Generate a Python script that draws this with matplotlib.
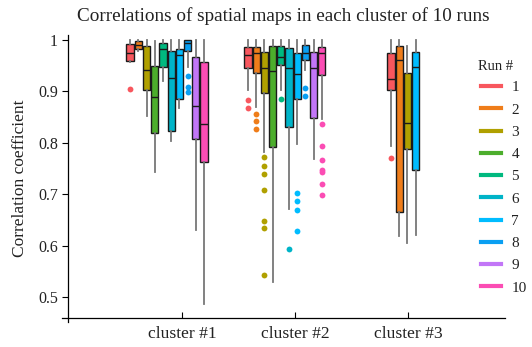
import matplotlib
matplotlib.use("Agg")
import matplotlib.pyplot as plt
from matplotlib.lines import Line2D

plt.rcParams['font.family'] = ['Liberation Serif', 'DejaVu Serif']

# ---------------- data ----------------
title = "Correlations of spatial maps in each cluster of 10 runs"
ylabel = "Correlation coefficient"
clusters = ["cluster #1", "cluster #2", "cluster #3"]
runs = ["1", "2", "3", "4", "5", "6", "7", "8", "9", "10"]
run_colors = ['#f8575e', '#ef7d1a', '#b0a000', '#4cae2c', '#00b97f',
              '#00b4c8', '#00bcff', '#0a9ff2', '#c276f7', '#fb4db4']

# cluster #1 (runs 1..10): whislo, q1, med, q3, whishi
c1_runs = [1, 2, 3, 4, 5, 6, 7, 8, 9, 10]
c1_whislo = [0.958, 0.979, 0.852, 0.743, 0.921, 0.803, 0.868, 0.947, 0.630, 0.487]
c1_q1     = [0.960, 0.982, 0.902, 0.820, 0.947, 0.823, 0.886, 0.979, 0.807, 0.763]
c1_med    = [0.975, 0.990, 0.941, 0.889, 0.982, 0.927, 0.971, 0.994, 0.872, 0.836]
c1_q3     = [0.992, 0.999, 0.989, 0.949, 0.995, 0.979, 0.982, 1.000, 0.968, 0.957]
c1_whishi = [1.000, 1.000, 1.000, 0.999, 1.000, 1.000, 1.000, 1.000, 1.000, 1.000]
c1_fliers = [[0.904], [], [], [], [], [], [], [0.930, 0.909, 0.899], [], []]

# cluster #2 (runs 1..10)
c2_runs = [1, 2, 3, 4, 5, 6, 7, 8, 9, 10]
c2_whislo = [0.903, 0.870, 0.782, 0.529, 0.903, 0.671, 0.797, 0.942, 0.769, 0.847]
c2_q1     = [0.945, 0.936, 0.897, 0.793, 0.951, 0.831, 0.886, 0.962, 0.849, 0.932]
c2_med    = [0.971, 0.974, 0.945, 0.940, 0.967, 0.946, 0.934, 0.974, 0.945, 0.975]
c2_q3     = [0.987, 0.986, 0.977, 0.988, 0.988, 0.984, 0.975, 0.990, 0.976, 0.987]
c2_whishi = [1.000, 1.000, 1.000, 1.000, 1.000, 1.000, 1.000, 1.000, 1.000, 1.000]
c2_fliers = [[0.883, 0.867], [0.857, 0.842, 0.828],
             [0.773, 0.755, 0.739, 0.708, 0.649, 0.634, 0.544], [], [0.886],
             [0.594], [0.702, 0.688, 0.670, 0.628], [0.906, 0.891], [],
             [0.836, 0.795, 0.766, 0.748, 0.743, 0.721, 0.699]]

# cluster #3 (runs 1, 2, 3, 7)
c3_runs = [1, 2, 3, 7]
c3_whislo = [0.795, 0.620, 0.606, 0.622]
c3_q1     = [0.903, 0.665, 0.788, 0.748]
c3_med    = [0.925, 0.961, 0.838, 0.947]
c3_q3     = [0.974, 0.988, 0.935, 0.976]
c3_whishi = [1.000, 1.000, 0.988, 1.000]
c3_fliers = [[0.771], [], [], []]

# ---------------- layout ----------------
group_start = [-0.459, 0.585, 1.850]   # center of first box in each group
slot = 0.0726
box_w = 0.064

fig = plt.figure(figsize=(5.32, 3.47), dpi=100)
ax = fig.add_axes([0.1165, 0.072, 0.8325, 0.827])

groups = [
    (c1_runs, c1_whislo, c1_q1, c1_med, c1_q3, c1_whishi, c1_fliers),
    (c2_runs, c2_whislo, c2_q1, c2_med, c2_q3, c2_whishi, c2_fliers),
    (c3_runs, c3_whislo, c3_q1, c3_med, c3_q3, c3_whishi, c3_fliers),
]

for gi, (rr, wl, q1, md, q3, wh, fl) in enumerate(groups):
    for j, r in enumerate(rr):
        col = run_colors[r - 1]
        st = [dict(whislo=wl[j], q1=q1[j], med=md[j], q3=q3[j],
                   whishi=wh[j], fliers=fl[j])]
        pos = group_start[gi] + j * slot
        ax.bxp(st, positions=[pos], widths=box_w, patch_artist=True,
               showcaps=False, manage_ticks=False,
               boxprops=dict(facecolor=col, edgecolor='#1a1a1a', linewidth=1.0),
               medianprops=dict(color='#1a1a1a', linewidth=1.0),
               whiskerprops=dict(color='#777777', linewidth=1.3),
               flierprops=dict(marker='o', markerfacecolor=col,
                               markeredgecolor='none', markersize=4.2))

ax.set_xlim(-1.062, 2.858)
ax.set_ylim(0.452, 1.0097)
ax.set_xticks([0, 1, 2])
ax.set_xticklabels(clusters)
ax.set_yticks([0.5, 0.6, 0.7, 0.8, 0.9, 1.0])
ax.set_yticklabels(["0.5", "0.6", "0.7", "0.8", "0.9", "1"])
ax.tick_params(axis='x', direction='in', length=4, width=0.8, pad=6,
               labelsize=12.6, labelcolor='#222222')
ax.tick_params(axis='y', direction='out', length=4, width=0.8, pad=3,
               labelsize=11.5, labelcolor='#222222')
ax.set_ylabel(ylabel, fontsize=12.5, color='#222222', labelpad=7)
for s in ['top', 'right']:
    ax.spines[s].set_visible(False)
ax.spines['left'].set_position(('outward', -4))
ax.spines['bottom'].set_position(('outward', -3))
ax.spines['left'].set_linewidth(0.9)
ax.spines['bottom'].set_linewidth(0.9)
ax.set_facecolor('none')

fig.suptitle(title, fontsize=13.8, color='#222222', x=0.533, y=0.98)

fig.text(0.931, 1 - 67 / 347, "Run #", fontsize=10.5, color='#222222',
         ha='center', va='center')
handles = [Line2D([0], [0], color=c, lw=3) for c in run_colors]
leg = fig.legend(handles, runs, loc='upper left',
                 bbox_to_anchor=(0.878, 1 - 67 / 347), frameon=False,
                 fontsize=11, handlelength=1.3,
                 labelspacing=0.56, handletextpad=0.7)
for t in leg.get_texts():
    t.set_color('#222222')

fig.savefig("out.png", dpi=100)
